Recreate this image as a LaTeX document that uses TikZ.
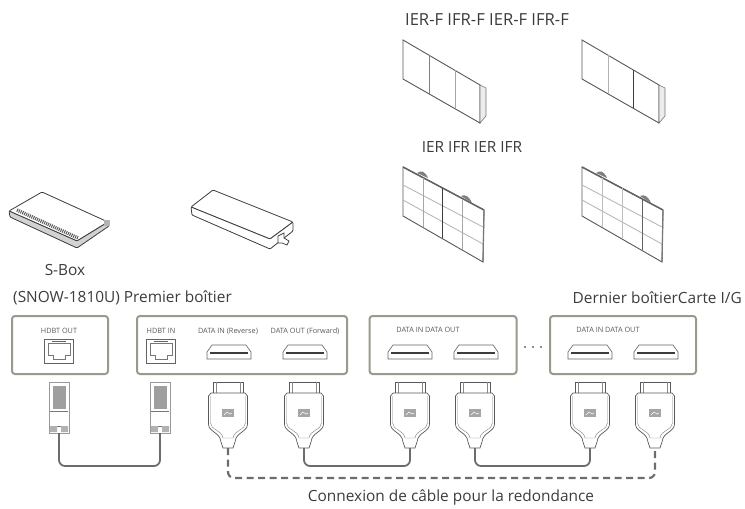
\documentclass[tikz,border=0pt]{standalone}
\usepackage{fontspec}
\setmainfont{Open Sans}
\definecolor{ink}{HTML}{3C3C3C}
\definecolor{edge}{HTML}{9A9A8C}
\definecolor{wire}{HTML}{6C6C6C}
\tikzset{
  portbox/.style={draw=edge, line width=2pt, rounded corners=3pt, inner sep=0pt},
  caption/.style={text=ink, font=\fontsize{15.4}{17}\selectfont, inner sep=0pt},
  tinytext/.style={text=ink!85, font=\fontsize{7.3}{8}\selectfont, inner sep=0pt},
  cable/.style={draw=wire, line width=1.8pt, rounded corners=6pt},
  redundant/.style={cable, line width=2.2pt, dash pattern=on 7pt off 4.5pt},
  pics/hdmiport/.style={code={
    \draw[ink!80, line width=.6pt] (-22,7) -- (-22,0) -- (-17,-7) -- (17,-7) -- (22,0) -- (22,7) -- cycle;
    \draw[ink, line width=2pt] (-19,1) -- (19,1);
  }},
  pics/rjport/.style={code={
    \draw[ink!80, line width=.7pt] (-14.5,-12) rectangle (14.5,12);
    \draw[ink!70, line width=.5pt] (-11,-8) -- (11,-8) -- (11,4) -- (6,4) -- (6,8) -- (-6,8) -- (-6,4) -- (-11,4) -- cycle;
    \draw[ink!80, line width=1pt] (-7,-9.5) -- (7,-9.5);
  }},
  pics/rjplug/.style={code={
    \draw[gray!80, line width=.5pt] (-10,0) rectangle (10,51);
    \fill[gray!75] (-6,4) rectangle (7,27);
    \draw[ink!70, line width=.5pt] (-9,29) -- (9,29) (-9,44) -- (9,44);
    \fill[gray!60] (-9,44) rectangle (-2,50) (2,44) rectangle (9,50);
    \coordinate (-tail) at (0,51);
  }},
  pics/hdmiplug/.style={code={
    \draw[ink!85, line width=.7pt] (-15,11) -- (-15,0) -- (15,0) -- (15,11);
    \draw[ink!60, line width=.4pt] (-12,0) -- (-12,11) (12,0) -- (12,11);
    \draw[ink!85, line width=.7pt, fill=white]
      (-12,11) -- (-17,11) -- (-19.5,14) -- (-19.5,42) .. controls (-19.5,50) and (-8,50) .. (-7,60)
      -- (-5,66) -- (5,66) -- (7,60) .. controls (8,50) and (19.5,50) .. (19.5,42)
      -- (19.5,14) -- (17,11) -- cycle;
    \draw[gray, line width=.4pt] (-17.5,14) -- (-17.5,41) .. controls (-17.5,48) and (-6,48) .. (-5,56) -- (5,56)
      .. controls (6,48) and (17.5,48) .. (17.5,41) -- (17.5,14);
    \fill[gray!70] (-6,27) rectangle (6,35);
    \draw[white, line width=.5pt] (-4,33) -- (-1,30) -- (2,32) -- (4,31);
    \coordinate (-tail) at (0,66);
  }},
  pics/flatpanel/.style={code={
    \draw[ink!85, line width=.9pt, fill=white] (0,0) -- (77,45) -- (77,83) -- (0,39) -- cycle;
    \draw[ink!70, line width=.6pt, fill=gray!15] (77,45) -- (83,48) -- (83,76) -- (77,83) -- cycle;
  }},
  pics/gridpanel/.style={code={
    \draw[ink!85, line width=.9pt, fill=white] (0,0) -- (81,43) -- (80,95) -- (0,49) -- cycle;
    \draw[gray!55, line width=.9pt] (0,18) -- (80,60) (0,33) -- (80,77);
    \draw[ink!80, line width=1.5pt] (0,0) -- (81,43);
    \fill[gray] (14,6) .. controls (18,3) and (22,4) .. (25,11) -- cycle;
    \fill[gray] (58,29) .. controls (62,27) and (66,29) .. (69,36) -- cycle;
    \draw[ink!70, line width=1.2pt] (81,43) -- (80,95);
  }},
}
\begin{document}
\begin{tikzpicture}[x=1pt, y=-1pt]
 \useasboundingbox (0,0) rectangle (745,509);
 % wall panels
 \pic at (403,40) {flatpanel};
 \draw[gray, line width=.8pt] (429,55) -- (429,94);
 \draw[gray!70, line width=.6pt] (455,70) -- (455,108);
 \pic at (582,40) {flatpanel};
 \draw[gray!60, line width=.6pt] (608,55) -- (608,94);
 \draw[ink, line width=.9pt] (633,70) -- (633,108);
 \pic at (403,167) {gridpanel};
 \draw[gray!70, line width=1pt] (423,178) -- (423,227);
 \draw[ink, line width=1pt] (442,188) -- (442,238);
 \draw[gray!70, line width=1pt] (462,199) -- (462,250);
 \pic at (582,167) {gridpanel};
 \draw[gray!50, line width=.7pt] (602,178) -- (602,227);
 \draw[gray!50, line width=.7pt] (622,188) -- (622,238);
 \draw[ink!80, line width=.8pt] (642,199) -- (642,250);
 \node[caption, font=\fontsize{16.6}{18}\selectfont] (fronttitle) at (487,20) {IER-F IFR-F IER-F IFR-F};
 \node[caption] (reartitle) at (472,147) {IER IFR IER IFR};

 % s-box
 \draw[ink, line width=.8pt, fill=white, rounded corners=1pt] (42,192) -- (108,222) -- (77,241) -- (9,211) -- cycle;
 \draw[ink, line width=.8pt, fill=gray!35, rounded corners=1pt] (9,211) -- (77,241) -- (108,222) -- (109,226) -- (77,248) -- (10,217) -- cycle;
 \draw[ink!85, dash pattern=on 1pt off 1pt, line width=3.5pt] (17,210) -- (78,238);
 \fill[gray!60] (104,220) rectangle (110,226);
 \node[caption] (sboxlabel) at (65,270) {S-Box};

 % second box
 \draw[ink, line width=.8pt, fill=white, rounded corners=1pt] (213,190) -- (293,222) -- (270,239) -- (191,207) -- cycle;
 \draw[ink, line width=.8pt, fill=white, rounded corners=1pt] (191,207) -- (270,239) -- (293,222) -- (293,231) -- (270,249) -- (192,215) -- cycle;
 \draw[ink, line width=.7pt, fill=white] (278,236) -- (284,233) -- (284,238) -- (289,241) -- (287,245) -- (282,243) -- (278,243) -- cycle;

 \node[caption, anchor=west] (firstlabel) at (13,298) {(SNOW-1810U) Premier boîtier};
 \node[caption, anchor=east] (lastlabel) at (742,298) {Dernier boîtierCarte I/G};

 % port boxes
 \node[portbox, minimum width=96pt, minimum height=58pt] (sendbox) at (60,345) {};
 \node[portbox, minimum width=210pt, minimum height=58pt] (firstbox) at (242,345) {};
 \node[portbox, minimum width=147pt, minimum height=58pt] (midbox) at (443,345) {};
 \node[portbox, minimum width=146pt, minimum height=58pt] (lastbox) at (623,345) {};

 \node[tinytext] at (59,331) {HDBT OUT};
 \node[tinytext] at (161,331) {HDBT IN};
 \node[tinytext] at (228,331) {DATA IN (Reverse)};
 \node[tinytext] at (305,331) {DATA OUT (Forward)};
 \node[tinytext] at (428,330) {DATA IN DATA OUT};
 \node[tinytext] at (608,330) {DATA IN DATA OUT};
 \pic at (59,351) {rjport};
 \pic at (161,351) {rjport};
 \foreach \px in {229,305,410,476,590,656}
   \pic at (\px,352) {hdmiport};
 \foreach \dx in {525,533,541}
   \fill[ink!80] (\dx,347) circle (1.2pt);

 % plugs
 \pic (rja) at (59,382) {rjplug};
 \pic (rjb) at (160,382) {rjplug};
 \pic (pa) at (228,382) {hdmiplug};
 \pic (pb) at (304,382) {hdmiplug};
 \pic (pc) at (410,382) {hdmiplug};
 \pic (pd) at (475,382) {hdmiplug};
 \pic (pe) at (590,382) {hdmiplug};
 \pic (pf) at (655,382) {hdmiplug};

 % cables
 \draw[cable] (rja-tail) |- (110,466) -| (rjb-tail);
 \draw[cable] (pb-tail) |- (360,466) -| (pc-tail);
 \draw[cable] (pd-tail) |- (530,466) -| (pe-tail);
 \draw[redundant] (pa-tail) |- (440,478) -| (pf-tail);
 \node[caption] (redundlabel) at (451,497) {Connexion de câble pour la redondance};
\end{tikzpicture}
\end{document}
